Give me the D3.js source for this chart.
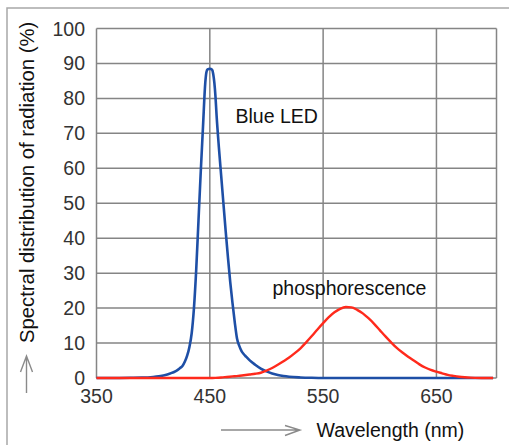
<!DOCTYPE html>
<html>
<head>
<meta charset="utf-8">
<script src="https://cdn.jsdelivr.net/npm/d3@7"></script>
<style>
  html, body { margin: 0; padding: 0; background: #fff; }
  text { font-family: "Liberation Sans", Arial, sans-serif; }
</style>
</head>
<body>
<div id="chart"></div>
<script>
const width = 509;
const height = 445;

// axis ticks
const xTicks = [350, 450, 550, 650];
const yTicks = [0, 10, 20, 30, 40, 50, 60, 70, 80, 90, 100];

// blue LED emission
const blueWavelength = [350, 360, 370, 380, 390, 400, 405, 410, 415, 420, 422, 424, 426, 428, 430, 432, 434, 436, 438, 440, 442, 444, 446, 447, 448, 450, 452, 453, 454, 455, 456, 458, 460, 462, 464, 466, 468, 470, 472, 474, 476, 478, 480, 482, 485, 490, 495, 500, 505, 510, 515, 520, 530, 540, 550, 700];
const blueValue      = [0, 0, 0.02, 0.05, 0.1, 0.3, 0.5, 0.8, 1.3, 2, 2.4, 2.9, 3.5, 4.7, 6.4, 8.9, 12.8, 20, 31, 45, 59, 72, 84.5, 87.5, 88.3, 88.5, 88.2, 87, 84.5, 80.5, 75, 66, 58, 50, 42, 34.5, 27.5, 21.5, 16, 11.3, 9.2, 7.7, 6.8, 6.1, 5.1, 3.8, 2.7, 1.9, 1.3, 0.85, 0.55, 0.35, 0.15, 0.05, 0, 0];

// phosphorescence emission
const redWavelength = [350, 450, 455, 460, 465, 470, 475, 480, 485, 490, 495, 500, 505, 510, 515, 520, 525, 530, 535, 540, 545, 550, 555, 560, 565, 570, 575, 580, 585, 590, 595, 600, 605, 610, 615, 620, 625, 630, 635, 640, 645, 650, 655, 660, 665, 670, 675, 680, 690, 700];
const redValue      = [0, 0, 0.05, 0.15, 0.3, 0.45, 0.6, 0.8, 1, 1.2, 1.5, 2.1, 2.85, 3.8, 4.8, 5.85, 7.1, 8.5, 10.2, 12, 13.9, 15.7, 17.4, 18.8, 19.8, 20.3, 20.2, 19.5, 18.5, 17.1, 15.5, 13.7, 11.9, 10.2, 8.6, 7.3, 6.1, 5, 3.9, 3, 2.3, 1.8, 1.35, 0.9, 0.6, 0.35, 0.2, 0.1, 0.02, 0];

const svg = d3.select("#chart").append("svg")
    .attr("width", width)
    .attr("height", height);

const x = d3.scaleLinear().domain([350, 703]).range([96.5, 496.5]);
const y = d3.scaleLinear().domain([0, 100]).range([378, 28.5]);

const gridColor = "#858585";

// outer frame (top and left)
svg.append("path")
    .attr("d", `M7,${height} V8 H${width}`)
    .attr("fill", "none")
    .attr("stroke", "#a8a8a8")
    .attr("stroke-width", 1.5);

// horizontal grid lines
svg.append("g").selectAll("line")
    .data(yTicks)
    .join("line")
    .attr("x1", x(350)).attr("x2", x(703))
    .attr("y1", d => y(d)).attr("y2", d => y(d))
    .attr("stroke", gridColor)
    .attr("stroke-width", 1.5);

// vertical grid lines + borders
svg.append("g").selectAll("line")
    .data([350, 450, 550, 650, 703])
    .join("line")
    .attr("x1", d => x(d)).attr("x2", d => x(d))
    .attr("y1", y(0)).attr("y2", y(100))
    .attr("stroke", gridColor)
    .attr("stroke-width", 1.5);

// tick labels
svg.append("g").selectAll("text")
    .data(yTicks)
    .join("text")
    .attr("x", 85)
    .attr("y", d => y(d) + 7)
    .attr("text-anchor", "end")
    .attr("font-size", 19.5)
    .attr("fill", "#333")
    .text(d => d);

svg.append("g").selectAll("text")
    .data(xTicks)
    .join("text")
    .attr("x", d => x(d))
    .attr("y", 403)
    .attr("text-anchor", "middle")
    .attr("font-size", 19.5)
    .attr("fill", "#333")
    .text(d => d);

// curves
const line = d3.line()
    .x(d => x(d[0]))
    .y(d => y(d[1]))
    .curve(d3.curveMonotoneX);

svg.append("path")
    .datum(d3.zip(blueWavelength, blueValue))
    .attr("d", line)
    .attr("fill", "none")
    .attr("stroke", "#1e4fa6")
    .attr("stroke-width", 2.6)
    .attr("stroke-linejoin", "round");

svg.append("path")
    .datum(d3.zip(redWavelength, redValue))
    .attr("d", line)
    .attr("fill", "none")
    .attr("stroke", "#ff2a1c")
    .attr("stroke-width", 2.4)
    .attr("stroke-linejoin", "round");

// curve labels
svg.append("text")
    .attr("x", 235.5).attr("y", 123)
    .attr("font-size", 19.5)
    .attr("fill", "#111")
    .text("Blue LED");

svg.append("text")
    .attr("x", 272.5).attr("y", 295)
    .attr("font-size", 19.5)
    .attr("fill", "#111")
    .text("phosphorescence");

// axis titles with arrows
svg.append("text")
    .attr("transform", "translate(33.5,343) rotate(-90)")
    .attr("font-size", 20.3)
    .attr("fill", "#111")
    .text("Spectral distribution of radiation (%)");

const arrowColor = "#8a8a8a";
svg.append("path")
    .attr("d", "M26.5,393 V356 M20.5,372 L26.5,356 L32.5,372")
    .attr("fill", "none")
    .attr("stroke", arrowColor)
    .attr("stroke-width", 1.4);

svg.append("path")
    .attr("d", "M221,430 H300 M285,425.5 L300,430 L285,435.5")
    .attr("fill", "none")
    .attr("stroke", arrowColor)
    .attr("stroke-width", 1.4);

svg.append("text")
    .attr("x", 316.5).attr("y", 436.5)
    .attr("font-size", 19.5)
    .attr("fill", "#111")
    .text("Wavelength (nm)");
</script>
</body>
</html>
